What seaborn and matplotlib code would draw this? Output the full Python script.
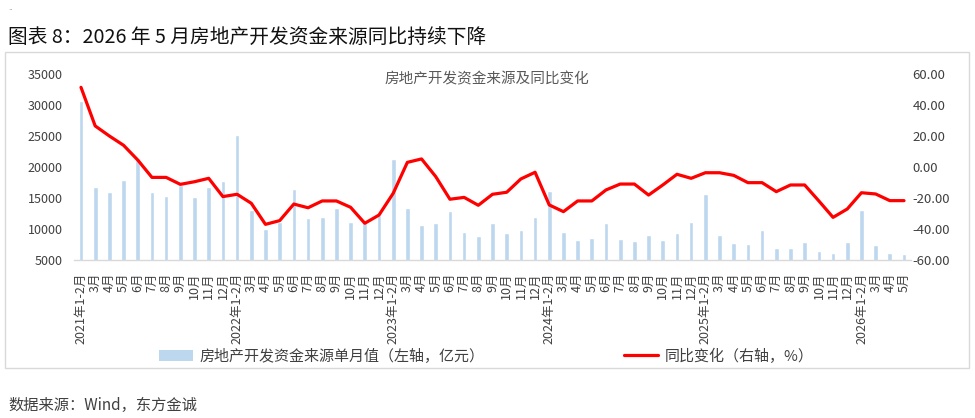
import numpy as np
import pandas as pd
import matplotlib
matplotlib.use("Agg")
import matplotlib.pyplot as plt
import seaborn as sns
from matplotlib.patches import Rectangle, Patch
from matplotlib.lines import Line2D
from matplotlib.ticker import FormatStrFormatter

# ---------------- data ----------------
years = [2021, 2022, 2023, 2024, 2025, 2026]
months = ["1-2", "3", "4", "5", "6", "7", "8", "9", "10", "11", "12"]
months_2026 = ["1-2", "3", "4", "5"]

bar_vals = [
    30600, 16800, 16000, 17900, 21400, 16000, 15300, 17100, 15100, 16700, 17700,
    25200, 13000, 10000, 11100, 16400, 11700, 11900, 13400, 11100, 10900, 12300,
    21300, 13400, 10600, 10900, 12900, 9500, 8900, 11000, 9300, 9800, 11900,
    16100, 9500, 8200, 8500, 11000, 8400, 8000, 9000, 8200, 9300, 11100,
    15600, 9000, 7800, 7600, 9900, 7000, 7000, 7900, 6500, 6200, 7900,
    13100, 7400, 6100, 6000,
]
yoy_vals = [
    51.4, 26.5, 20.0, 14.0, 4.5, -6.7, -6.7, -11.2, -9.5, -7.3, -19.1,
    -17.6, -23.4, -37.0, -34.6, -23.9, -26.3, -21.9, -21.9, -26.0, -36.3, -31.0,
    -17.0, 3.0, 5.2, -6.2, -20.8, -19.6, -24.7, -17.6, -16.3, -7.7, -3.4,
    -24.5, -28.8, -21.9, -21.9, -14.8, -11.0, -11.0, -18.1, -11.6, -4.7, -7.3,
    -3.7, -3.7, -5.4, -10.1, -10.1, -15.9, -11.6, -11.6, -21.9, -32.5, -27.1,
    -16.6, -17.4, -21.7, -21.7,
]

tick_labels = []
for y in years:
    ms = months_2026 if y == 2026 else months
    for m in ms:
        tick_labels.append(f"{y}年{m}月" if m == "1-2" else f"{m}月")

left_ticks = [5000, 10000, 15000, 20000, 25000, 30000, 35000]
right_ticks = [-60, -40, -20, 0, 20, 40, 60]

title = "图表 8：2026 年 5 月房地产开发资金来源同比持续下降"
inner_title = "房地产开发资金来源及同比变化"
bar_label = "房地产开发资金来源单月值（左轴，亿元）"
line_label = "同比变化（右轴，%）"
source = "数据来源：Wind，东方金诚"

# ---------------- style ----------------
sns.set_theme(style="white")
plt.rcParams["font.family"] = ["Noto Sans CJK SC", "DejaVu Sans"]
plt.rcParams["axes.unicode_minus"] = False

BAR_C = "#BDD7EE"
LINE_C = "#FF0000"
TXT_C = "#404040"

W, H = 975, 418
fig = plt.figure(figsize=(W / 100, H / 100), dpi=100)

# outer frame
fig.add_artist(Rectangle((5 / W, 1 - 368 / H), (969 - 5) / W, (368 - 52) / H,
                         transform=fig.transFigure, fill=False,
                         edgecolor="#D9D9D9", lw=1.0))

ax_l, ax_r = 73.9 / W, 911.1 / W
ax_t, ax_b = 74 / H, 260 / H
ax = fig.add_axes([ax_l, 1 - ax_b, ax_r - ax_l, ax_b - ax_t])

df = pd.DataFrame({"idx": np.arange(len(bar_vals)), "val": bar_vals, "yoy": yoy_vals})

sns.barplot(data=df, x="idx", y="val", ax=ax, color=BAR_C, saturation=1,
            width=0.33, legend=False)
ax2 = ax.twinx()
sns.lineplot(data=df, x="idx", y="yoy", ax=ax2, color=LINE_C, lw=2.3, legend=False)

ax.set_xlim(-0.5, len(bar_vals) - 0.5)
ax.set_ylim(5000, 35000)
ax.set_yticks(left_ticks)
ax2.set_ylim(-60, 60)
ax2.set_yticks(right_ticks)
ax2.yaxis.set_major_formatter(FormatStrFormatter("%.2f"))

ax.set_xticks(np.arange(len(tick_labels)))
ax.set_xticklabels(tick_labels, rotation=90, fontsize=9, color=TXT_C)
ax.tick_params(axis="x", length=0, pad=9)
ax.tick_params(axis="y", length=0, pad=8, labelsize=9, labelcolor=TXT_C)
ax2.tick_params(axis="y", length=0, pad=1, labelsize=9.5, labelcolor=TXT_C)

for a in (ax, ax2):
    a.set_xlabel("")
    a.set_ylabel("")
    a.grid(False)
    for s in ("top", "left", "right"):
        a.spines[s].set_visible(False)
ax2.spines["bottom"].set_visible(False)
ax.spines["bottom"].set_color("#D9D9D9")
ax.spines["bottom"].set_linewidth(1.0)
ax.patch.set_alpha(0)

# texts
fig.text(8 / W, 1 - 7 / H, "..", fontsize=6, color="#888888", va="center", ha="left")
fig.text(8 / W, 1 - 37 / H, title, fontsize=14.2, color="#111111", va="center", ha="left")
fig.text(487 / W, 1 - 79 / H, inner_title, fontsize=10.5, color="#595959", va="center", ha="center")
fig.text(8 / W, 1 - 405 / H, source, fontsize=11, color=TXT_C, va="center", ha="left")

handles = [Patch(facecolor=BAR_C, edgecolor="none"),
           Line2D([0], [0], color=LINE_C, lw=2.3)]
leg = fig.legend(handles, [bar_label, line_label], ncol=2, frameon=False,
                 loc="center", bbox_to_anchor=(486 / W, 1 - 356 / H),
                 fontsize=10.8, handlelength=2.3, handletextpad=0.4,
                 columnspacing=9.3, labelcolor=TXT_C)

fig.savefig("out.png", dpi=100)
